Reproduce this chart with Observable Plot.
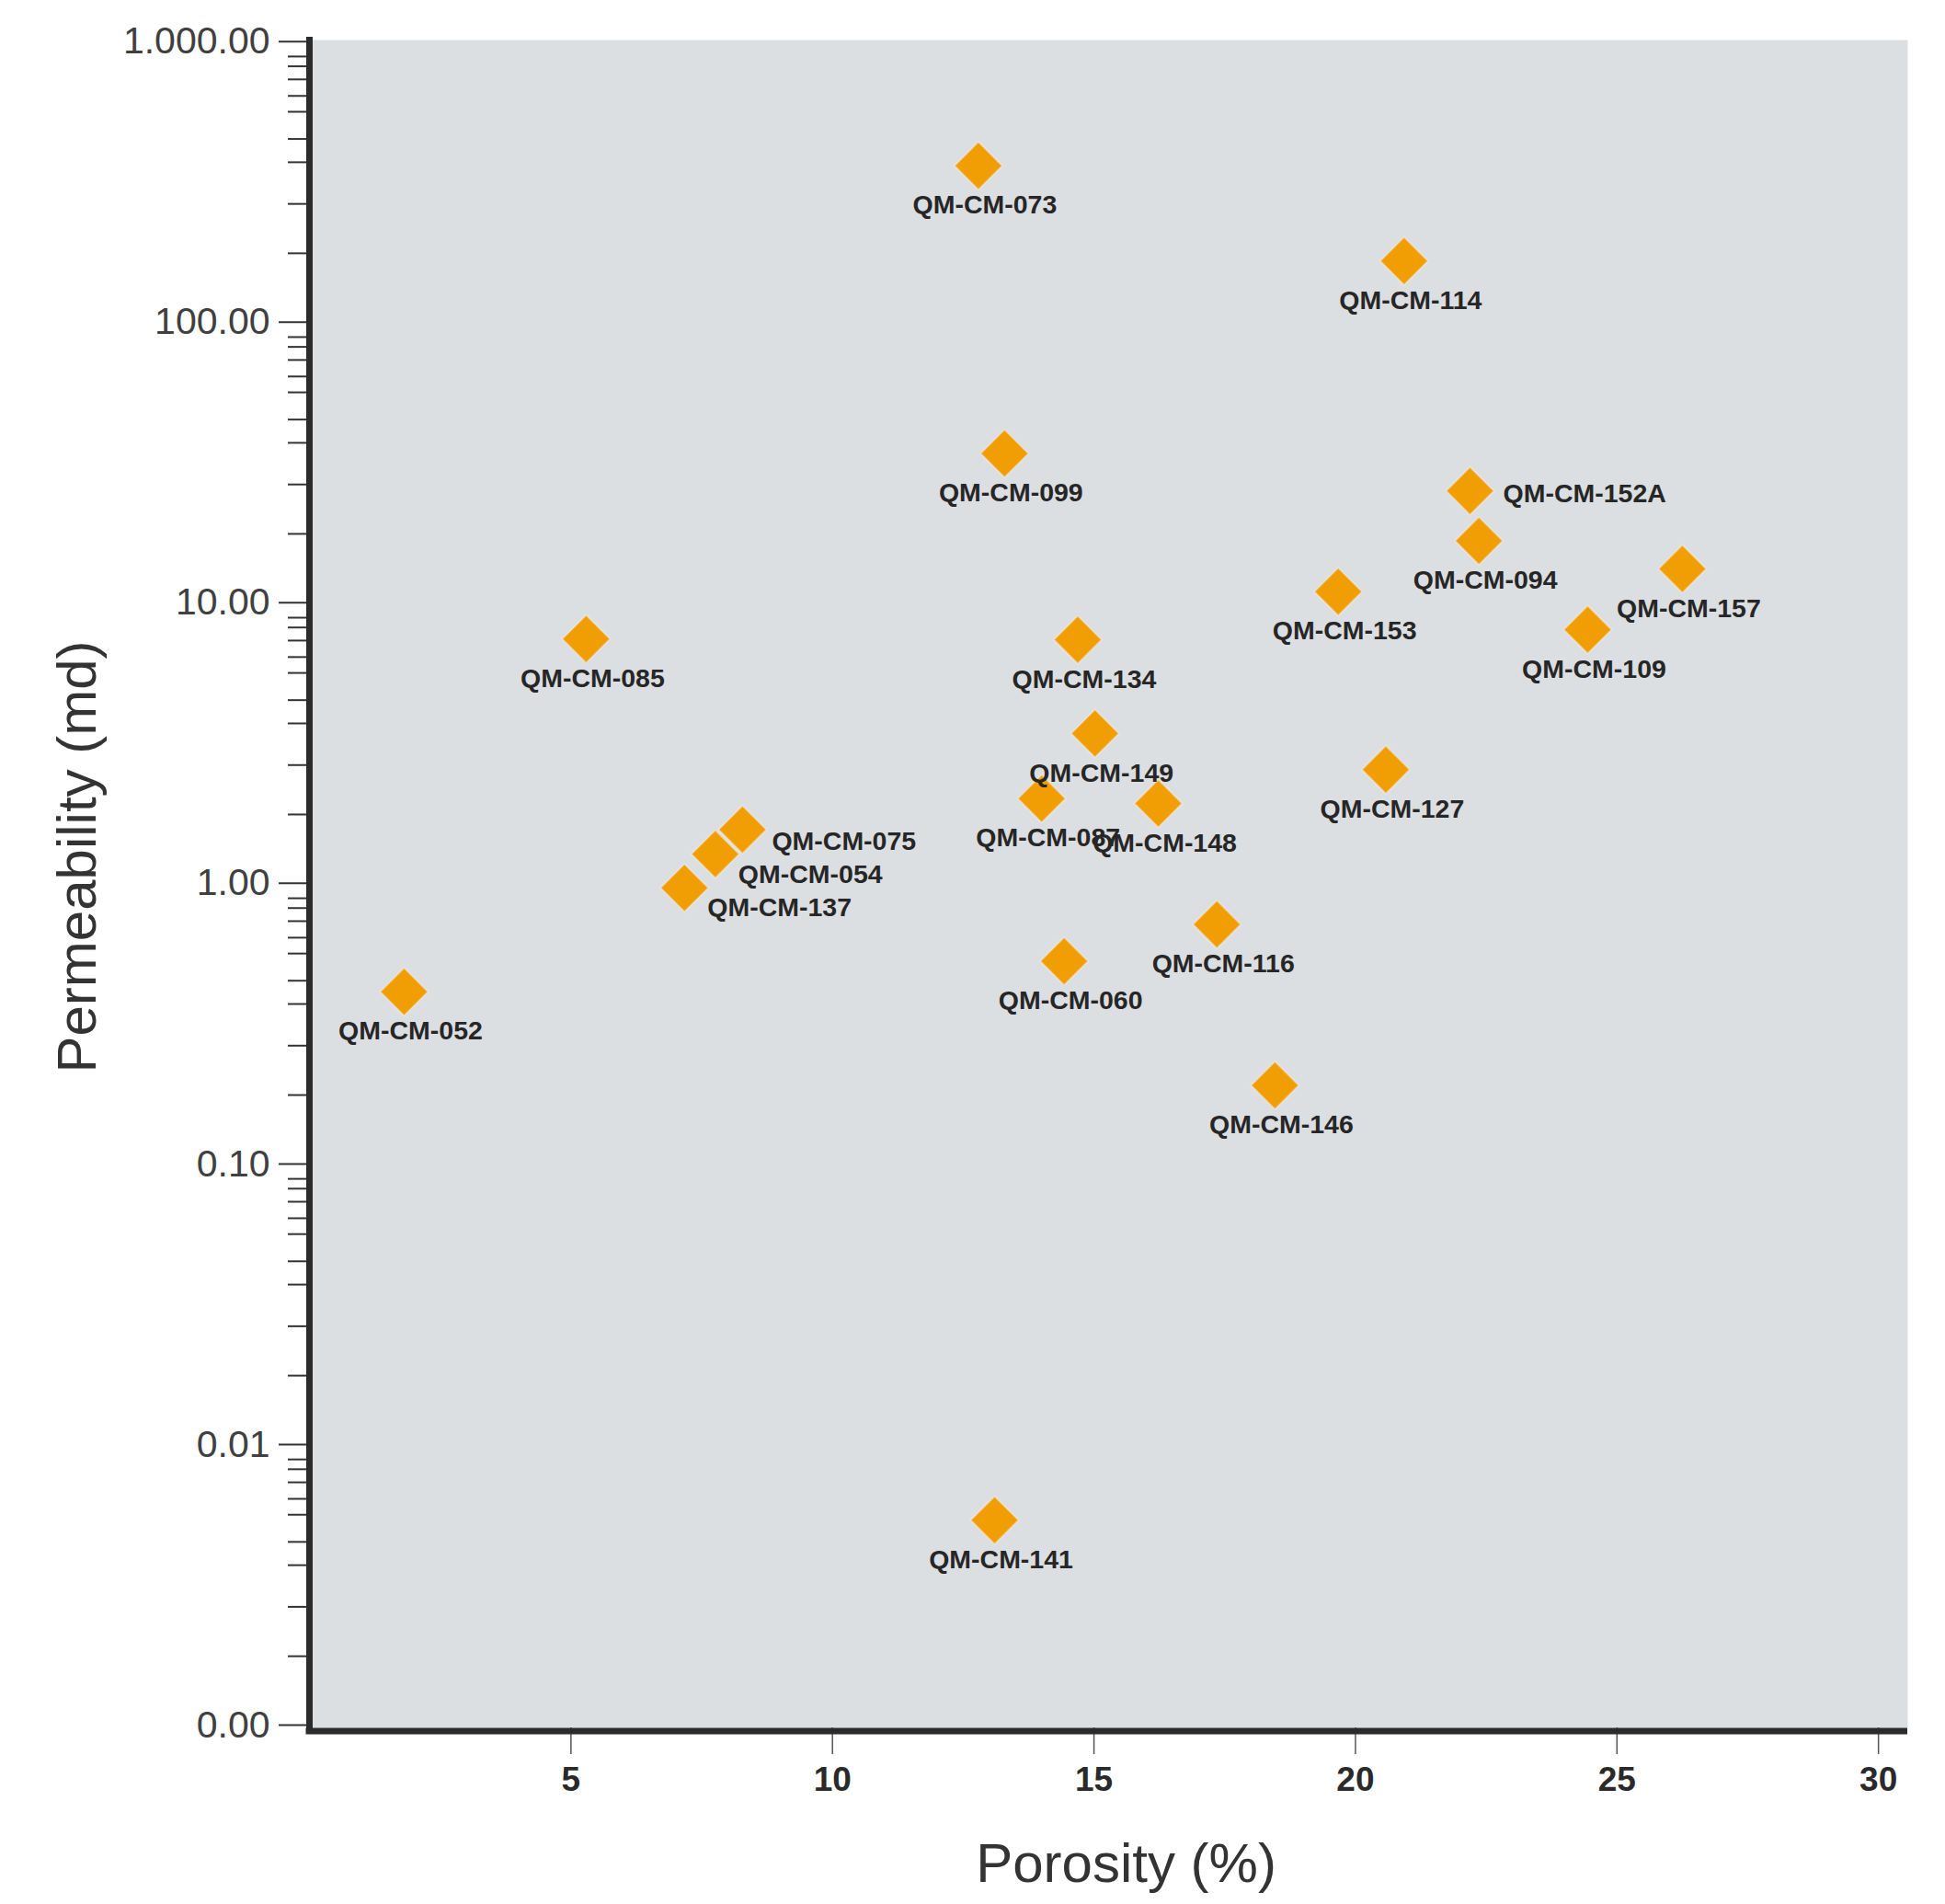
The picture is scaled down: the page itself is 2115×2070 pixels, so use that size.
<!DOCTYPE html>
<html>
<head>
<meta charset="utf-8">
<script src="https://cdn.jsdelivr.net/npm/d3@7"></script>
<script src="https://cdn.jsdelivr.net/npm/@observablehq/plot@0.6"></script>
<style>
  html, body { margin: 0; padding: 0; background: #ffffff; }
  g[aria-label="sample labels"] text { letter-spacing: -1.5px; }
</style>
</head>
<body>
<div id="chart"></div>
<script>
// ---- data ----
const samples = [
  "QM-CM-073", "QM-CM-114", "QM-CM-099", "QM-CM-152A", "QM-CM-094",
  "QM-CM-153", "QM-CM-157", "QM-CM-109", "QM-CM-085", "QM-CM-134",
  "QM-CM-149", "QM-CM-127", "QM-CM-087", "QM-CM-148", "QM-CM-075",
  "QM-CM-054", "QM-CM-137", "QM-CM-052", "QM-CM-116", "QM-CM-060",
  "QM-CM-146", "QM-CM-141"
];
const porosity = [
  12.79, 20.93, 13.29, 22.19, 22.36,
  19.67, 26.25, 24.44, 5.29, 14.69,
  15.02, 20.58, 14.00, 16.23, 8.28,
  7.76, 7.17, 1.81, 17.35, 14.43,
  18.46, 13.10
];
const permeability = [
  369, 169, 34.8, 25.6, 17.0,
  11.2, 13.5, 8.2, 7.6, 7.55,
  3.5, 2.6, 2.05, 1.97, 1.59,
  1.30, 0.985, 0.42, 0.73, 0.54,
  0.195, 0.0055
];
const yTickValues = [0.001, 0.01, 0.1, 1, 10, 100, 1000];
const yTickLabels = ["0.00", "0.01", "0.10", "1.00", "10.00", "100.00", "1.000.00"];
const yMinorFactors = [0.18, 0.27, 0.38, 0.46, 0.575, 0.655, 0.75, 0.835, 0.905];
const xTickValues = [5, 10, 15, 20, 25, 30];
// label side for the few samples not labelled underneath
const labelSide = {
  "QM-CM-152A": "right",
  "QM-CM-075": "right-low",
  "QM-CM-054": "lower-right",
  "QM-CM-137": "lower-right"
};

// ---- build table ----
const rows = samples.map((name, i) => ({name, porosity: porosity[i], permeability: permeability[i]}));
const side = d => labelSide[d.name] || "below";
const minorTicks = [];
for (const dec of yTickValues.slice(1)) for (const f of yMinorFactors) minorTicks.push(dec * f);

const ink = "#2b2b2b";
const labelStyle = {x: "porosity", y: "permeability", text: "name", fontSize: 28.5, fontWeight: "bold",
                    fill: "#262626", ariaLabel: "sample labels"};
const chart = Plot.plot({
  width: 2115,
  height: 2070,
  marginLeft: 336,
  marginRight: 41,
  marginTop: 43,
  marginBottom: 192,
  insetTop: 4.7,
  style: {fontFamily: "'Liberation Sans', Arial, Helvetica, sans-serif", background: "#ffffff"},
  x: {domain: [0, 30.56]},
  y: {type: "log", domain: [0.001, 1000]},
  marks: [
    Plot.frame({fill: "#dcdfe2", stroke: null}),
    Plot.axisY(minorTicks, {tickSize: 23, stroke: "#333", strokeWidth: 2, fill: "none", label: null}),
    Plot.axisY(yTickValues, {
      tickSize: 33, tickPadding: 10, stroke: "#333", strokeWidth: 2,
      tickFormat: d => yTickLabels[yTickValues.indexOf(d)],
      fontSize: 41, fill: "#404040", dy: -3, label: null
    }),
    Plot.axisX(xTickValues, {
      tickSize: 29, tickPadding: 13, stroke: "#555", strokeWidth: 1.5,
      fontSize: 37, fontWeight: "bold", fill: "#2a2a2a", label: null
    }),
    Plot.ruleX([0], {stroke: ink, strokeWidth: 7, insetTop: -3, insetBottom: -7}),
    Plot.ruleY([0.001], {stroke: ink, strokeWidth: 7, dy: 3.5, insetLeft: -3.5}),
    Plot.dot(rows, {
      x: "porosity", y: "permeability", symbol: "diamond2", r: 23.4,
      fill: "#f19e05", stroke: "#f4f4f6", strokeWidth: 2, strokeOpacity: 0.45
    }),
    Plot.text(rows.filter(d => side(d) === "below"), {...labelStyle, dx: 7, dy: 43}),
    Plot.text(rows.filter(d => side(d) === "right"), {...labelStyle, textAnchor: "start", dx: 36, dy: 3}),
    Plot.text(rows.filter(d => side(d) === "right-low"), {...labelStyle, textAnchor: "start", dx: 32, dy: 13}),
    Plot.text(rows.filter(d => side(d) === "lower-right"), {...labelStyle, textAnchor: "start", dx: 25, dy: 22}),
    Plot.text(["Porosity (%)"], {
      text: d => d, frameAnchor: "bottom", textAnchor: "middle", lineAnchor: "bottom",
      dx: 19, dy: 167, fontSize: 60, fill: "#333"
    }),
    Plot.text(["Permeability (md)"], {
      text: d => d, frameAnchor: "left", textAnchor: "middle", lineAnchor: "middle",
      rotate: -90, dx: -252, dy: -29.5, fontSize: 60, fill: "#333"
    })
  ]
});
document.getElementById("chart").appendChild(chart);
</script>
</body>
</html>
